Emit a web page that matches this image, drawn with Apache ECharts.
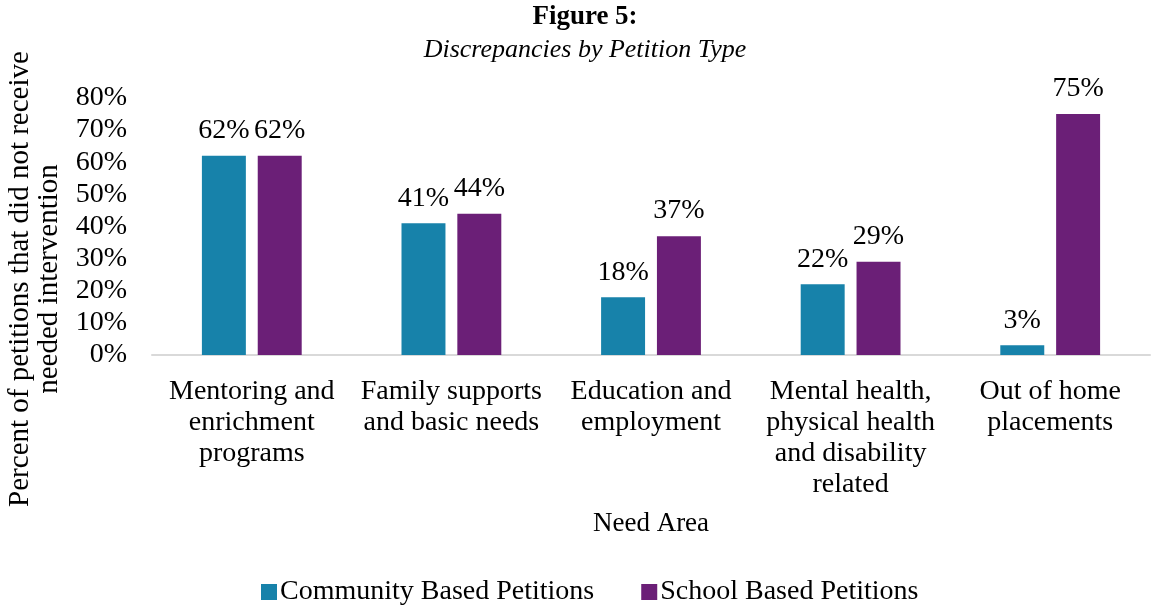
<!DOCTYPE html>
<html>
<head>
<meta charset="utf-8">
<script src="https://cdn.jsdelivr.net/npm/echarts@6/dist/echarts.min.js"></script>
<style>
  html, body { margin: 0; padding: 0; background: #fff; }
  #chart { width: 1151px; height: 608px; }
</style>
</head>
<body>
<div id="chart"></div>
<script>
// Need areas (line breaks follow the printed wrapping)
const categories = [
  'Mentoring and\nenrichment\nprograms',
  'Family supports\nand basic needs',
  'Education and\nemployment',
  'Mental health,\nphysical health\nand disability\nrelated',
  'Out of home\nplacements'
];
// Percent of petitions that did not receive the needed intervention
const communityBased = [62, 41, 18, 22, 3];
const schoolBased = [62, 44, 37, 29, 75];
const seriesNames = ['Community Based Petitions', 'School Based Petitions'];
const yTicks = { min: 0, max: 80, interval: 10 };

const FONT = '"Liberation Serif", "DejaVu Serif", serif';
const BLUE = '#1782AA';
const PURPLE = '#6B1F77';

const chart = echarts.init(document.getElementById('chart'));

const barLabel = {
  show: true,
  position: 'top',
  distance: 11,
  formatter: p => p.value + '%',
  fontFamily: FONT,
  fontSize: 28,
  color: '#000'
};

chart.setOption({
  animation: false,
  textStyle: { fontFamily: FONT },
  title: [
    {
      text: 'Figure 5:',
      left: 580,
      top: -1,
      textAlign: 'center',
      textStyle: { fontFamily: FONT, fontSize: 27, fontWeight: 'bold', color: '#000' }
    },
    {
      text: 'Discrepancies by Petition Type',
      left: 580,
      top: 32,
      textAlign: 'center',
      textStyle: { fontFamily: FONT, fontSize: 26, fontStyle: 'italic', fontWeight: 'normal', color: '#000' }
    }
  ],
  legend: {
    bottom: -3,
    left: 256,
    itemWidth: 16,
    itemHeight: 16,
    itemGap: 47,
    icon: 'rect',
    textStyle: { fontFamily: FONT, fontSize: 28, color: '#000', padding: [0, 0, 0, -2] },
    data: seriesNames
  },
  grid: { left: 152, right: 1, top: 98, bottom: 253, containLabel: false },
  xAxis: {
    type: 'category',
    data: categories,
    name: 'Need Area',
    nameLocation: 'middle',
    nameGap: 155,
    nameTextStyle: { fontFamily: FONT, fontSize: 27, color: '#000' },
    axisLine: { lineStyle: { color: '#d9d9d9', width: 2 } },
    axisTick: { show: false },
    axisLabel: {
      interval: 0,
      margin: 21,
      fontFamily: FONT,
      fontSize: 28,
      lineHeight: 31,
      color: '#000'
    }
  },
  yAxis: {
    type: 'value',
    min: yTicks.min,
    max: yTicks.max,
    interval: yTicks.interval,
    axisLine: { show: false },
    axisTick: { show: false },
    splitLine: { show: false },
    axisLabel: {
      margin: 25,
      fontFamily: FONT,
      fontSize: 28,
      color: '#000',
      formatter: v => v + '%'
    }
  },
  graphic: [
    {
      type: 'text',
      x: 35,
      y: 279,
      rotation: Math.PI / 2,
      style: {
        text: 'Percent of petitions that did not receive\nneeded intervention',
        fontFamily: FONT,
        fontSize: 29,
        lineHeight: 29,
        fill: '#000',
        align: 'center',
        verticalAlign: 'middle'
      }
    }
  ],
  series: [
    {
      name: seriesNames[0],
      type: 'bar',
      data: communityBased,
      itemStyle: { color: BLUE },
      barGap: '27%',
      barCategoryGap: '50%',
      label: barLabel
    },
    {
      name: seriesNames[1],
      type: 'bar',
      data: schoolBased,
      itemStyle: { color: PURPLE },
      label: barLabel
    }
  ]
});
</script>
</body>
</html>
